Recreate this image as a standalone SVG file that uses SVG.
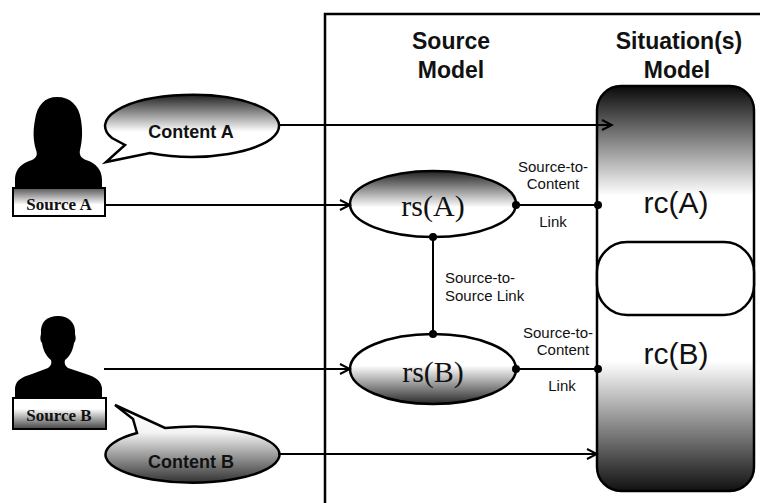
<svg xmlns="http://www.w3.org/2000/svg" width="760" height="503" viewBox="0 0 760 503">
<style>
.ln{fill:none;stroke:#000;stroke-width:2}
.frame{fill:none;stroke:#000;stroke-width:2.5}
.shape{stroke:#000;stroke-width:2.5}
.hdr{font-family:"Liberation Sans",Arial,sans-serif;font-weight:bold;font-size:23px;text-anchor:middle;fill:#111}
.lbl{font-family:"Liberation Sans",Arial,sans-serif;font-size:15px;fill:#111}
.ctr{text-anchor:middle}
.cont{font-family:"Liberation Sans",Arial,sans-serif;font-weight:bold;font-size:18px;text-anchor:middle;fill:#111}
.src{font-family:"Liberation Serif","Times New Roman",serif;font-weight:bold;font-size:17px;text-anchor:middle;fill:#111}
.rs{font-family:"Liberation Serif","Times New Roman",serif;font-size:30px;text-anchor:middle;fill:#111}
.rc{font-family:"Liberation Sans",Arial,sans-serif;font-size:30px;text-anchor:middle;fill:#111}
.dot{fill:#000}
</style>
<defs>
<linearGradient id="gSit" x1="0" y1="0" x2="0" y2="1">
<stop offset="0" stop-color="#0a0a0a"/>
<stop offset="0.27" stop-color="#fff"/>
<stop offset="0.68" stop-color="#fff"/>
<stop offset="1" stop-color="#111"/>
</linearGradient>
<linearGradient id="gTop" x1="0" y1="0" x2="0" y2="1">
<stop offset="0" stop-color="#222"/>
<stop offset="0.55" stop-color="#fff"/>
<stop offset="1" stop-color="#fff"/>
</linearGradient>
<linearGradient id="gBot" x1="0" y1="0" x2="0" y2="1">
<stop offset="0" stop-color="#fff"/>
<stop offset="0.45" stop-color="#fff"/>
<stop offset="1" stop-color="#2a2a2a"/>
</linearGradient>
<linearGradient id="gBubB" x1="0" y1="0" x2="0" y2="1">
<stop offset="0" stop-color="#fff"/>
<stop offset="0.35" stop-color="#f4f4f4"/>
<stop offset="1" stop-color="#333"/>
</linearGradient>
<linearGradient id="gBoxA" x1="0" y1="0" x2="0" y2="1">
<stop offset="0" stop-color="#555"/>
<stop offset="0.6" stop-color="#fff"/>
</linearGradient>
<linearGradient id="gBoxB" x1="0" y1="0" x2="0" y2="1">
<stop offset="0.35" stop-color="#fff"/>
<stop offset="1" stop-color="#444"/>
</linearGradient>
<marker id="arr" markerUnits="userSpaceOnUse" markerWidth="14" markerHeight="14" refX="12" refY="7" orient="auto" viewBox="0 0 14 14">
<path d="M2,2 L12,7 L2,12" fill="none" stroke="#000" stroke-width="2"/>
</marker>
</defs>

<g id="frame">
<path class="frame" d="M325,503 L325,14 L760,14"/>
</g>

<g id="headers">
<text class="hdr" x="451" y="49">Source</text>
<text class="hdr" x="451" y="78">Model</text>
<text class="hdr" x="679" y="49">Situation(s)</text>
<text class="hdr" x="677" y="78">Model</text>
</g>

<g id="situation-model">
<rect class="shape" x="597" y="86" width="157" height="405" rx="24" fill="url(#gSit)"/>
<rect class="shape" x="597" y="242" width="157" height="73" rx="30" fill="#fff"/>
<text class="rc" x="676" y="213">rc(A)</text>
<text class="rc" x="676" y="364">rc(B)</text>
</g>

<g id="source-a">
<path fill="#000" d="M15,188 L15,178 C16,168 22,163 32,160 C36,158 38,155 36,150 C33,140 33,130 35,120 C37,105 45,97 57,97 C70,97 79,105 81,120 C83,132 82,142 80,150 C79,155 81,158 86,160 C96,163 102,170 102,180 L102,188 Z"/>
<rect x="13" y="188" width="92" height="28" fill="url(#gBoxA)" stroke="#000" stroke-width="2"/>
<text class="src" x="59" y="210">Source A</text>
</g>

<g id="source-b">
<path fill="#000" d="M15,398 L15,388 C16,380 22,377 32,374 L48,368 C51,366 52,363 51,360 C46,356 43,350 42,343 C40,341 40,337 41,334 C40,322 47,316 58,316 C69,316 76,323 75,334 C76,337 76,341 74,343 C73,350 70,356 65,360 C64,363 65,366 68,368 L86,374 C96,377 101,381 102,388 L102,398 Z"/>
<rect x="13" y="398" width="93" height="31" fill="url(#gBoxB)" stroke="#000" stroke-width="2"/>
<text class="src" x="59" y="421">Source B</text>
</g>

<g id="content-a">
<path class="shape" fill="url(#gTop)" d="M150,153 A87 31 0 1 0 112,138 L125,145 L106,162 Z"/>
<text class="cont" x="191" y="138">Content A</text>
</g>

<g id="content-b">
<path class="shape" fill="url(#gBubB)" d="M137,433 L133,419 L115,405 L165,428 A87 28 0 1 1 137,433 Z"/>
<text class="cont" x="191" y="468">Content B</text>
</g>

<g id="rs-a">
<ellipse class="shape" cx="433" cy="204" rx="83" ry="33" fill="url(#gTop)"/>
<text class="rs" x="433" y="216">rs(A)</text>
</g>

<g id="rs-b">
<ellipse class="shape" cx="433" cy="369" rx="83" ry="35" fill="url(#gBot)"/>
<text class="rs" x="433" y="382">rs(B)</text>
</g>

<g id="connectors">
<line class="ln" x1="278" y1="125" x2="612" y2="125" marker-end="url(#arr)"/>
<line class="ln" x1="278" y1="454" x2="597" y2="454" marker-end="url(#arr)"/>
<line class="ln" x1="105" y1="205" x2="350" y2="205" marker-end="url(#arr)"/>
<line class="ln" x1="104" y1="369" x2="350" y2="369" marker-end="url(#arr)"/>
<line class="ln" x1="516" y1="205" x2="597" y2="205"/>
<line class="ln" x1="516" y1="369" x2="597" y2="369"/>
<line class="ln" x1="433" y1="237" x2="433" y2="334"/>
<circle class="dot" cx="516" cy="205" r="4"/>
<circle class="dot" cx="598" cy="205" r="4"/>
<circle class="dot" cx="516" cy="369" r="4"/>
<circle class="dot" cx="598" cy="369" r="4"/>
<circle class="dot" cx="433" cy="237" r="4"/>
<circle class="dot" cx="433" cy="334" r="4"/>
<text class="lbl ctr" x="553" y="172">Source-to-</text>
<text class="lbl ctr" x="553" y="189">Content</text>
<text class="lbl ctr" x="553" y="227">Link</text>
<text class="lbl" x="445" y="283">Source-to-</text>
<text class="lbl" x="445" y="301">Source Link</text>
<text class="lbl ctr" x="558" y="338">Source-to-</text>
<text class="lbl ctr" x="563" y="355">Content</text>
<text class="lbl ctr" x="562" y="391">Link</text>
</g>
</svg>
